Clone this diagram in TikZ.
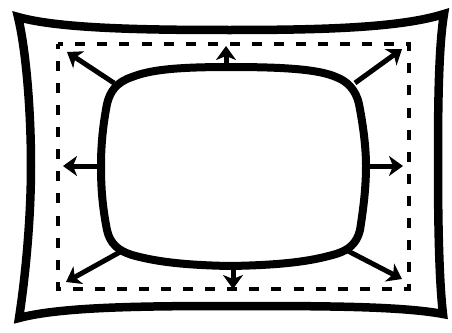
\documentclass[tikz,border=0pt]{standalone}
\usetikzlibrary{arrows.meta}

\begin{document}
\begin{tikzpicture}[x=1pt, y=-1pt,
  frame/.style={line width=8.5pt, line join=miter},
  screen/.style={line width=8pt, line join=round},
  dashbox/.style={line width=4pt, dash pattern=on 10pt off 12.07pt, dash phase=5pt},
  arr/.style={line width=5pt, -{Stealth[length=14pt, width=20pt, inset=4pt]}}]
  \useasboundingbox (0,0) rectangle (452,332);
  % 外框（枕形）
  \draw[frame] (18,17) .. controls (60,29) and (150,30) .. (230,30)
    .. controls (320,30) and (400,28) .. (444,14)
    .. controls (438,50) and (438,120) .. (438,166)
    .. controls (438,220) and (439,280) .. (443,314)
    .. controls (400,306) and (320,306) .. (230,306)
    .. controls (140,306) and (60,307) .. (19,318)
    .. controls (25,280) and (31,220) .. (31,166)
    .. controls (31,110) and (26,50) .. (18,17) -- cycle;
  % 虚线框
  \draw[dashbox] (58,44) rectangle (409,289);
  % 内框（桶形）
  \draw[screen] (230,67) .. controls (290,67) and (320,70) .. (336,77)
    .. controls (347,81) and (356,90) .. (359,104)
    .. controls (364,130) and (366,150) .. (366,166)
    .. controls (366,185) and (364,205) .. (360,230)
    .. controls (357,243) and (349,250) .. (336,254)
    .. controls (315,260) and (290,265) .. (230,266)
    .. controls (175,265) and (150,260) .. (132,255)
    .. controls (119,251) and (110,244) .. (107,230)
    .. controls (102,205) and (101,185) .. (101,166)
    .. controls (101,150) and (102,130) .. (107,104)
    .. controls (110,91) and (117,82) .. (132,77)
    .. controls (150,70) and (175,67) .. (230,67) -- cycle;
  % 箭头
  \foreach \xa/\ya/\xb/\yb in {226/67/226/46, 233/266/233/289, 101/166/63/166,
      366/166/403/166, 114/83/67/52, 355/83/402/49, 120/252/66/282, 348/251/402/279}
    \draw[arr] (\xa,\ya) -- (\xb,\yb);
\end{tikzpicture}
\end{document}
